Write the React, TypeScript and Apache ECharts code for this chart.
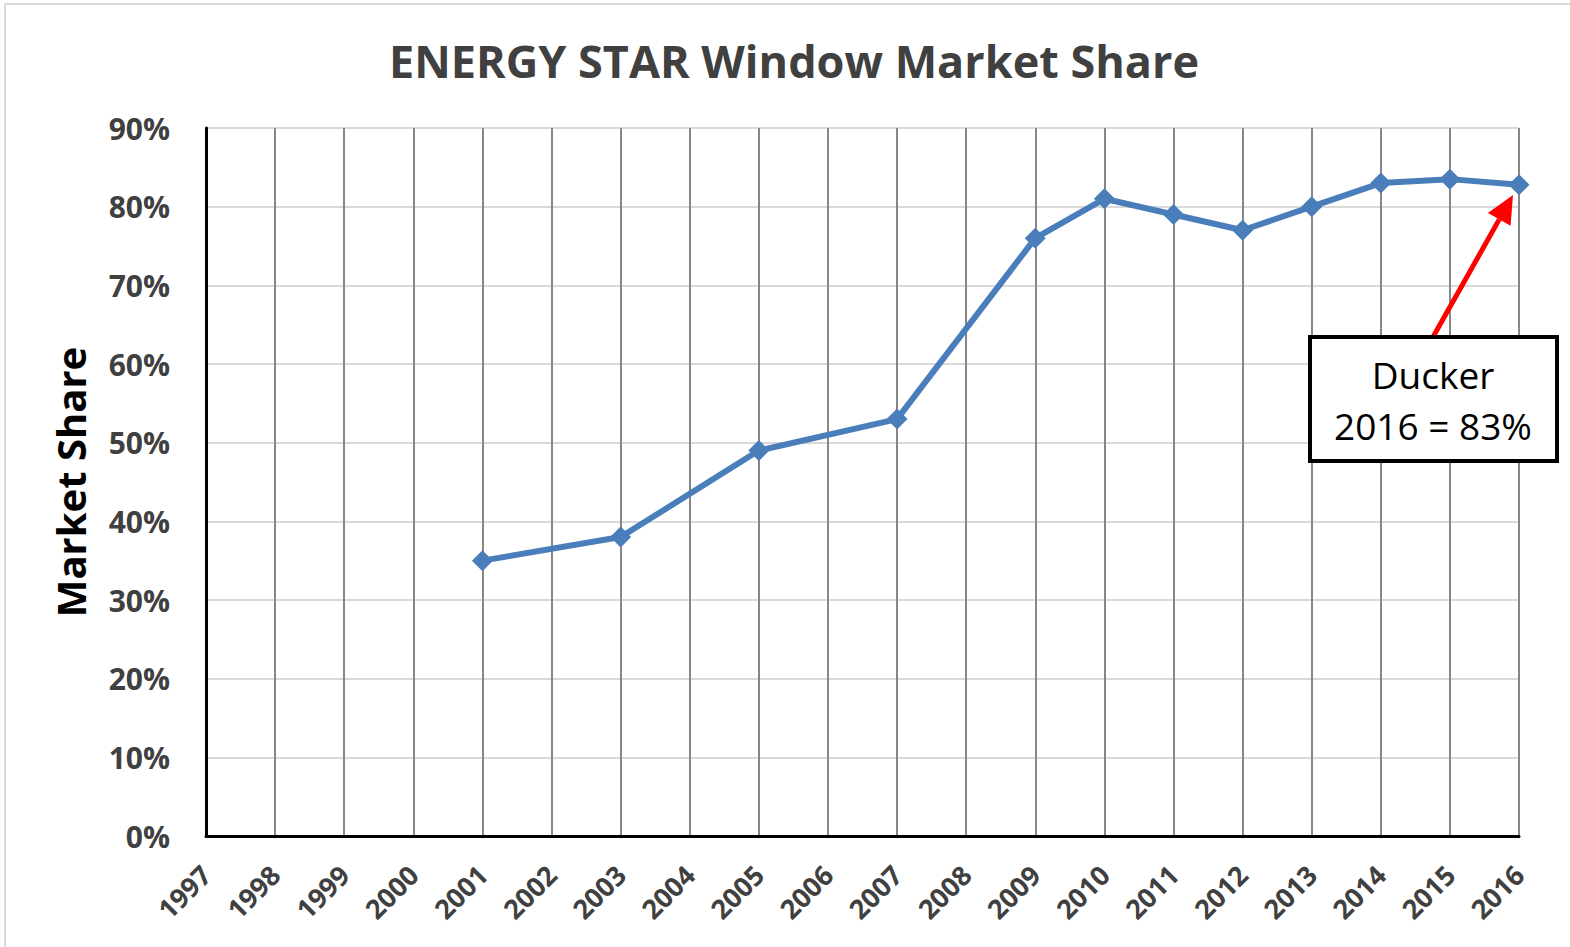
import React, { useEffect, useRef } from "react";
import * as echarts from "echarts";

const years = ["1997","1998","1999","2000","2001","2002","2003","2004","2005","2006","2007","2008","2009","2010","2011","2012","2013","2014","2015","2016"];
const share = [null,null,null,null,35,null,38,null,49,null,53,null,76,81,79,77,80,83,83.5,82.8];
const yTicks = { min: 0, max: 90, interval: 10 };
const titleText = "ENERGY STAR Window Market Share";
const yName = "Market Share";
const noteLines = ["Ducker", "2016 = 83%"];

export default function App() {
  const ref = useRef<HTMLDivElement>(null);
  useEffect(() => {
    if (!ref.current) return;
    const chart = echarts.init(ref.current, null, { renderer: "svg" });
    const tip = [1513, 195];
    const start = [1433, 337];
    const dx = tip[0] - start[0], dy = tip[1] - start[1];
    const L = Math.hypot(dx, dy);
    const ux = dx / L, uy = dy / L;
    const hl = 28, hw = 13;
    const bx = tip[0] - hl * ux, by = tip[1] - hl * uy;
    const nx = -uy, ny = ux;
    chart.setOption({
      animation: false,
      backgroundColor: "#ffffff",
      title: {
        text: titleText,
        left: 789,
        top: 33,
        textAlign: "center",
        textStyle: { fontFamily: "Open Sans", fontWeight: "bold", fontSize: 45, color: "#404040" },
      },
      grid: { left: 206, right: 51, top: 128, bottom: 111 },
      xAxis: {
        type: "category",
        data: years,
        boundaryGap: false,
        axisLine: { lineStyle: { color: "#000000", width: 3 } },
        axisTick: { show: false },
        axisLabel: { rotate: 45, margin: 34, color: "#404040", fontFamily: "Open Sans", fontWeight: "bold", fontSize: 27 },
        splitLine: { show: true, lineStyle: { color: "#878787", width: 2 } },
      },
      yAxis: {
        type: "value",
        min: yTicks.min,
        max: yTicks.max,
        interval: yTicks.interval,
        name: yName,
        nameLocation: "middle",
        nameGap: 116,
        nameTextStyle: { fontFamily: "Open Sans", fontWeight: "bold", fontSize: 40, color: "#000000" },
        axisLine: { show: true, lineStyle: { color: "#000000", width: 3 } },
        axisTick: { show: false },
        axisLabel: { margin: 36, color: "#404040", fontFamily: "Open Sans", fontWeight: "bold", fontSize: 30, formatter: "{value}%" },
        splitLine: { show: true, lineStyle: { color: "#d9d9d9", width: 2 } },
      },
      series: [
        {
          type: "line",
          data: share,
          connectNulls: true,
          symbol: "diamond",
          symbolSize: 21,
          lineStyle: { color: "#4a7ebb", width: 6 },
          itemStyle: { color: "#4a7ebb" },
          z: 5,
        },
      ],
      graphic: [
        { type: "rect", shape: { x: 5, y: 4, width: 1700, height: 1100 }, style: { fill: "none", stroke: "#d9d9d9", lineWidth: 2 }, z: -1, silent: true },
        { type: "line", shape: { x1: start[0], y1: start[1], x2: bx, y2: by }, style: { stroke: "#ff0000", lineWidth: 5 }, z: 10 },
        { type: "polygon", shape: { points: [[tip[0], tip[1]], [bx + nx * hw, by + ny * hw], [bx - nx * hw, by - ny * hw]] }, style: { fill: "#ff0000" }, z: 10 },
        { type: "rect", shape: { x: 1310, y: 337, width: 247, height: 124 }, style: { fill: "#ffffff", stroke: "#000000", lineWidth: 4 }, z: 11 },
        { type: "text", x: 1433, y: 374, style: { text: noteLines[0], fontFamily: "Open Sans", fontSize: 37, fill: "#000000", align: "center", verticalAlign: "middle" }, z: 12 },
        { type: "text", x: 1433, y: 425, style: { text: noteLines[1], fontFamily: "Open Sans", fontSize: 37, fill: "#000000", align: "center", verticalAlign: "middle" }, z: 12 },
      ],
    });
    return () => chart.dispose();
  }, []);
  return <div ref={ref} style={{ position: "fixed", left: 0, top: 0, width: 1570, height: 947 }} />;
}
